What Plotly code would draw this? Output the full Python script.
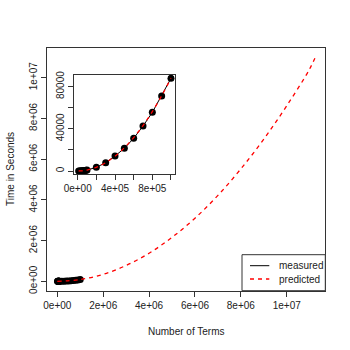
import plotly.graph_objects as go

# ---- data ----
measured_x = [1e4, 2e4, 3e4, 4e4, 5e4, 6e4, 7e4, 8e4, 9e4, 1e5,
              2e5, 3e5, 4e5, 5e5, 6e5, 7e5, 8e5, 9e5, 1e6]
measured_y = [9, 35, 80, 140, 220, 320, 430, 560, 710, 880,
              3500, 7900, 14200, 21500, 31000, 42600, 55600, 71100, 87900]

pred_inset_y = [9, 35, 79, 141, 220, 317, 431, 563, 713, 880,
                3520, 7920, 14080, 22000, 31680, 43120, 56320, 71280, 88000]

pred_x = [0, 1e6, 2e6, 3e6, 4e6, 5e6, 6e6, 7e6, 8e6, 9e6, 10e6, 11e6, 11.3e6]
pred_y = [0, 0.088e6, 0.345e6, 0.78e6, 1.38e6, 2.16e6, 3.1e6, 4.22e6,
          5.52e6, 6.98e6, 8.62e6, 10.43e6, 11.15e6]

main_xticks = [0, 2e6, 4e6, 6e6, 8e6, 1e7]
main_xlabels = ["0e+00", "2e+06", "4e+06", "6e+06", "8e+06", "1e+07"]
main_yticks = [0, 2e6, 4e6, 6e6, 8e6, 1e7]
main_ylabels = ["0e+00", "2e+06", "4e+06", "6e+06", "8e+06", "1e+07"]

inset_xticks = [0, 2e5, 4e5, 6e5, 8e5, 1e6]
inset_xlabels = ["0e+00", "", "4e+05", "", "8e+05", ""]
inset_yticks = [0, 20000, 40000, 60000, 80000]
inset_ylabels = ["0", "", "40000", "", "80000"]

legend_labels = ["measured", "predicted"]

FONT = "Liberation Sans, Arial, sans-serif"
W = H = 350

def px(x):
    return x / W

def py(y):
    return 1 - y / H

fig = go.Figure()

# main plot
fig.add_trace(go.Scatter(x=measured_x, y=measured_y, mode="lines+markers",
                         line=dict(color="black", width=1),
                         marker=dict(color="black", size=7),
                         xaxis="x", yaxis="y", showlegend=False))
fig.add_trace(go.Scatter(x=pred_x, y=pred_y, mode="lines", line_shape="spline",
                         line=dict(color="red", width=1.3, dash="4px,4px"),
                         xaxis="x", yaxis="y", showlegend=False))

# inset
fig.add_trace(go.Scatter(x=measured_x, y=measured_y, mode="lines+markers",
                         line=dict(color="black", width=1),
                         marker=dict(color="black", size=7),
                         xaxis="x2", yaxis="y2", showlegend=False))
fig.add_trace(go.Scatter(x=measured_x, y=pred_inset_y, mode="lines", line_shape="spline",
                         line=dict(color="red", width=1.3, dash="4px,4px"),
                         xaxis="x2", yaxis="y2", showlegend=False))

axis_common = dict(showgrid=False, zeroline=False, showline=True, mirror=True,
                   linecolor="#333", linewidth=1, ticks="outside", ticklen=5,
                   tickcolor="#333", tickwidth=1, automargin=False,
                   tickfont=dict(family=FONT, size=10, color="#222"))

fig.update_layout(
    width=W, height=H,
    margin=dict(l=0, r=0, t=0, b=0),
    paper_bgcolor="white", plot_bgcolor="white",
    font=dict(family=FONT, size=10, color="#222"),
    xaxis=dict(domain=[px(47.3), px(325.3)], range=[-0.436e6, 11.68e6],
               tickvals=main_xticks, ticktext=main_xlabels, anchor="y", **axis_common),
    yaxis=dict(domain=[py(290.7), py(47.7)], range=[-0.46e6, 11.47e6],
               tickvals=main_yticks, ticktext=main_ylabels, tickangle=-90,
               anchor="x", **axis_common),
    xaxis2=dict(domain=[px(74.3), px(175)], range=[-0.365e5, 10.43e5],
                tickvals=inset_xticks, ticktext=inset_xlabels, anchor="y2", **axis_common),
    yaxis2=dict(domain=[py(174), py(75)], range=[-2840, 91000],
                tickvals=inset_yticks, ticktext=inset_ylabels, tickangle=-90,
                anchor="x2", **axis_common),
)

# axis titles
fig.add_annotation(text="Number of Terms", x=px(186), y=py(331.5), xref="paper", yref="paper",
                   showarrow=False, font=dict(family=FONT, size=10, color="#222"),
                   xanchor="center", yanchor="middle")
fig.add_annotation(text="Time in Seconds", x=px(10), y=py(169), xref="paper", yref="paper",
                   showarrow=False, textangle=-90, font=dict(family=FONT, size=10, color="#222"),
                   xanchor="center", yanchor="middle")

# legend box (drawn manually, R style)
fig.add_shape(type="rect", xref="paper", yref="paper",
              x0=px(242), x1=px(325.3), y0=py(290.7), y1=py(254.7),
              line=dict(color="#333", width=1), fillcolor="white", layer="above")
fig.add_shape(type="line", xref="paper", yref="paper",
              x0=px(250), x1=px(269.3), y0=py(265.7), y1=py(265.7),
              line=dict(color="black", width=1))
fig.add_shape(type="line", xref="paper", yref="paper",
              x0=px(250), x1=px(269.3), y0=py(279), y1=py(279),
              line=dict(color="red", width=1.3, dash="4px,4px"))
for lab, yy in zip(legend_labels, [265.7, 279]):
    fig.add_annotation(text=lab, x=px(277), y=py(yy), xref="paper", yref="paper",
                       showarrow=False, xanchor="left", yanchor="middle",
                       font=dict(family=FONT, size=10, color="#222"))

fig.write_html("out.html",
               config={"displayModeBar": False},
               post_script="document.body.style.margin='0';document.body.style.padding='0';")
